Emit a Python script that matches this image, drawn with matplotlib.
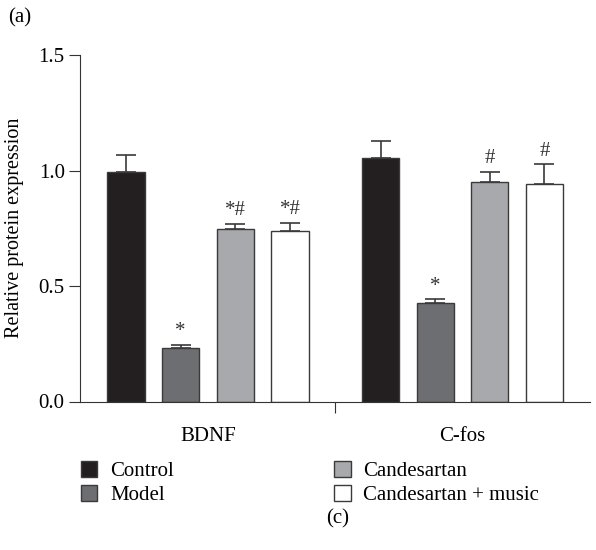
import numpy as np
import matplotlib
matplotlib.use('Agg')
import matplotlib.pyplot as plt
from matplotlib.patches import Patch

plt.rcParams['font.family'] = ['Liberation Serif', 'DejaVu Serif']

# Данные
genes = ['BDNF', 'C-fos']
groups = ['Control', 'Model', 'Candesartan', 'Candesartan + music']
colors = ['#231f20', '#6d6e71', '#a7a9ac', '#ffffff']
means = {
    'Control': [0.995, 1.055],
    'Model': [0.232, 0.427],
    'Candesartan': [0.745, 0.951],
    'Candesartan + music': [0.738, 0.943],
}
errors = {
    'Control': [0.073, 0.074],
    'Model': [0.013, 0.015],
    'Candesartan': [0.025, 0.043],
    'Candesartan + music': [0.036, 0.084],
}
marks = {
    'Control': ['', ''],
    'Model': ['*', '*'],
    'Candesartan': ['*#', '#'],
    'Candesartan + music': ['*#', '#'],
}

fig = plt.figure(figsize=(5.96, 5.5), dpi=100)
ax = fig.add_axes([80 / 596, 1 - 401.5 / 550, 510 / 596, 346.5 / 550])

x = np.arange(len(genes))
step = 0.2147
width = 0.146
for i, g in enumerate(groups):
    pos = x + (i - 1.5) * step
    ax.bar(pos, means[g], width=width, color=colors[i], edgecolor='#3a3a3a',
           linewidth=1.0, yerr=[np.zeros(len(genes)), errors[g]],
           error_kw=dict(ecolor='#3a3a3a', elinewidth=1.2, capsize=7, capthick=1.2),
           label=g, zorder=2)
    for j in range(len(genes)):
        if marks[g][j]:
            ax.text(pos[j], means[g][j] + errors[g][j] + 0.015, marks[g][j],
                    ha='center', va='bottom', fontsize=15, color='#333333')

ax.set_xlim(-0.503, 1.501)
ax.set_ylim(0, 1.5)
ax.set_yticks([0, 0.5, 1.0, 1.5])
ax.set_yticklabels(['0.0', '0.5', '1.0', '1.5'])
ax.set_xticks([0.5])
ax.set_xticklabels([''])
for j, name in enumerate(genes):
    ax.text(x[j], -0.15, name, ha='center', va='center', fontsize=15,
            transform=ax.transData)
ax.spines['top'].set_visible(False)
ax.spines['right'].set_visible(False)
for s in ['left', 'bottom']:
    ax.spines[s].set_color('#333333')
ax.tick_params(axis='both', direction='out', length=8, color='#333333',
               labelsize=15, pad=3)
ax.set_ylabel('Relative protein expression', fontsize=14.5)
ax.yaxis.set_label_coords(-56 / 510, 0.5)

handles = [Patch(facecolor=colors[i], edgecolor='#3a3a3a', linewidth=1.0)
           for i in range(len(groups))]
fig.legend(handles, groups, ncol=2, loc='upper left',
           bbox_to_anchor=(62 / 596, 1 - 442 / 550), frameon=False,
           fontsize=15, handlelength=0.8, handleheight=0.8,
           handletextpad=0.6, columnspacing=7.7, labelspacing=0.2)

fig.text(8 / 596, 1 - 18 / 550, '(a)', fontsize=15, ha='left', va='center')
fig.text(338 / 596, 1 - 519 / 550, '(c)', fontsize=15, ha='center', va='center')

fig.savefig('out.png', dpi=100)
